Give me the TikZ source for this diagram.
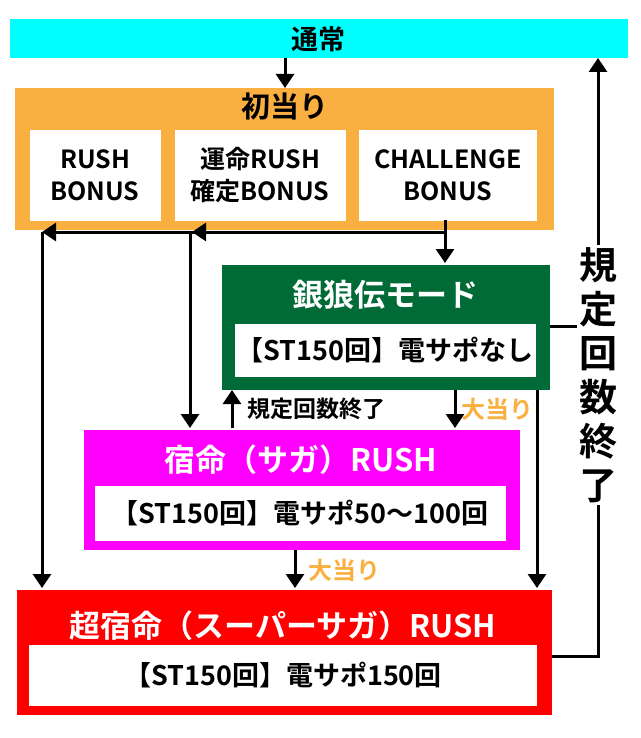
\documentclass[tikz,border=0pt]{standalone}
\usepackage{fontspec}
\setmainfont{Noto Sans CJK JP Bold}
\usetikzlibrary{positioning,calc,arrows.meta}
\definecolor{tsujo}{rgb}{0.0, 1.0, 1.0}
\definecolor{hatsu}{rgb}{0.98, 0.69, 0.25}
\definecolor{ginro}{rgb}{0.0, 0.42, 0.21}
\definecolor{saga}{rgb}{1.0, 0.0, 1.0}
\definecolor{super}{rgb}{1.0, 0.0, 0.0}
\tikzset{
  box/.style={draw=white, line width=1.5pt, anchor=north west, inner sep=0pt},
  inbox/.style={fill=white, draw=white, inner sep=0pt, align=center, font=\fontsize{27}{28}\selectfont},
  ttl/.style={text=white, font=\fontsize{31}{32}\selectfont},
  arr/.style={line width=3pt, -{Triangle[length=14pt,width=18pt]}},
  ln/.style={line width=3pt},
  gold/.style={text=hatsu, font=\fontsize{24}{26}\selectfont}
}
\begin{document}
\begin{tikzpicture}[x=1pt,y=-1pt]
  \useasboundingbox (0,0) rectangle (640,738);
  % boxes
  \node[box, fill=tsujo, minimum width=620, minimum height=40] (tsujo) at (8,18) {};
  \node[font=\fontsize{27}{28}\selectfont] at (tsujo.center) {通常};
  \node[box, fill=hatsu, draw=hatsu, minimum width=537, minimum height=140] (hatsu) at (15,88) {};
  \node[font=\fontsize{29}{30}\selectfont] at (285,106) {初当り};
  \node[inbox, font=\fontsize{25}{32}\selectfont, minimum width=130, minimum height=90] (rb) at (95,175) {RUSH\\BONUS};
  \node[inbox, font=\fontsize{25}{32}\selectfont, minimum width=170, minimum height=90] (ub) at (260,175) {運命RUSH\\確定BONUS};
  \node[inbox, font=\fontsize{25}{32}\selectfont, minimum width=177, minimum height=90] (cb) at (448,175) {CHALLENGE\\BONUS};
  \node[box, fill=ginro, minimum width=330, minimum height=127] (ginro) at (220,263) {};
  \node[ttl] at (385,295) {銀狼伝モード};
  \node[inbox, minimum width=300, minimum height=52] (gin) at (385,350) {【ST150回】電サポなし};
  \node[box, fill=saga, minimum width=438, minimum height=122] (saga) at (82,428) {};
  \node[ttl] at (301,460) {宿命（サガ）RUSH};
  \node[inbox, minimum width=410, minimum height=54] (sin) at (300,513) {【ST150回】電サポ50～100回};
  \node[box, fill=super, minimum width=537, minimum height=127] (super) at (15,588) {};
  \node[ttl] at (283,626) {超宿命（スーパーサガ）RUSH};
  \node[inbox, minimum width=507, minimum height=60] (sup) at (283,675) {【ST150回】電サポ150回};
  % connectors
  \coordinate (j) at (445,232);
  \draw[arr] (285,58) -- (285,88);
  \draw[ln] (cb.south -| j) -- (j);
  \draw[arr] (j) -- (j |- ginro.north);
  \draw[arr] (j) -- (42,232);
  \draw[arr] (j) -- (192,232);
  \draw[arr] (42,232) -- (42,588);
  \draw[arr] (190,232) -- (190,428);
  \draw[arr] (232,428) -- (232,390);
  \node[anchor=west, font=\fontsize{23}{24}\selectfont] at (244,409) {規定回数終了};
  \draw[arr] (455,390) -- (455,428);
  \node[gold, anchor=west] at (458,409) {大当り};
  \draw[arr] (537,390) -- (537,588);
  \draw[arr] (295,550) -- (295,588);
  \node[gold, anchor=west] at (305,570) {大当り};
  \draw[ln] (552,656) -- (598,656);
  \draw[ln] (550,326) -- (598,326);
  \draw[arr] (598,657.5) -- (598,58);
  \node[fill=white, inner sep=2pt, align=center, font=\fontsize{38}{44}\selectfont] at (598,375) {規\\定\\回\\数\\終\\了};
\end{tikzpicture}
\end{document}
